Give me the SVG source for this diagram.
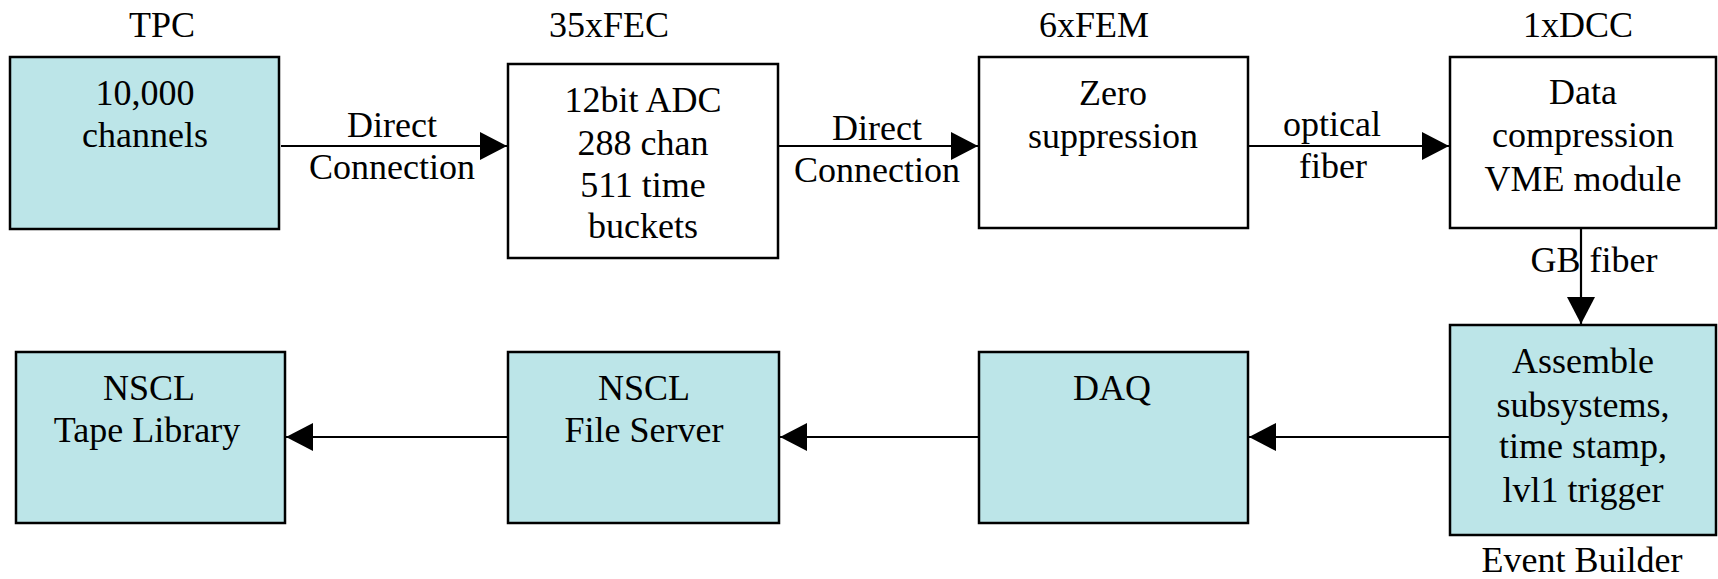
<svg xmlns="http://www.w3.org/2000/svg" width="1718" height="579" viewBox="0 0 1718 579" font-family="'Liberation Serif', 'Times New Roman', serif">
<defs>
<style>
.box{stroke:#000;stroke-width:2.5}
.cy{fill:#BCE5E8}
.wh{fill:#fff}
text{font-family:'Liberation Serif','Times New Roman',serif;font-size:36px;fill:#000;text-anchor:middle}
.ln{stroke:#000;stroke-width:2.2;fill:none;marker-end:url(#ah)}
</style>
<marker id="ah" markerUnits="userSpaceOnUse" markerWidth="28" markerHeight="28" refX="27" refY="14" orient="auto">
<path d="M0,0 L27,14 L0,28 Z" fill="#000"/>
</marker>
</defs>
<rect width="1718" height="579" fill="#fff"/>
<g id="connectors">
<line class="ln" x1="281" y1="146" x2="507" y2="146"/>
<line class="ln" x1="779" y1="146" x2="978" y2="146"/>
<line class="ln" x1="1249" y1="146" x2="1449" y2="146"/>
<line class="ln" x1="1581" y1="226" x2="1581" y2="324"/>
<line class="ln" x1="1449" y1="437" x2="1249" y2="437"/>
<line class="ln" x1="978" y1="437" x2="780" y2="437"/>
<line class="ln" x1="507" y1="437" x2="286" y2="437"/>
<text x="392" y="137">Direct</text>
<text x="392" y="179">Connection</text>
<text x="877" y="140">Direct</text>
<text x="877" y="182">Connection</text>
<text x="1332" y="136">optical</text>
<text x="1333" y="178">fiber</text>
<text x="1594" y="272">GB fiber</text>
</g>
<g id="tpc">
<text x="162" y="37">TPC</text>
<rect class="box cy" x="10" y="57" width="269" height="172"/>
<text x="145" y="105">10,000</text>
<text x="145" y="147">channels</text>
</g>
<g id="fec">
<text x="609" y="37">35xFEC</text>
<rect class="box wh" x="508" y="64" width="270" height="194"/>
<text x="643" y="112">12bit ADC</text>
<text x="643" y="155">288 chan</text>
<text x="643" y="197">511 time</text>
<text x="643" y="238">buckets</text>
</g>
<g id="fem">
<text x="1094" y="37">6xFEM</text>
<rect class="box wh" x="979" y="57" width="269" height="171"/>
<text x="1113" y="105">Zero</text>
<text x="1113" y="148">suppression</text>
</g>
<g id="dcc">
<text x="1578" y="37">1xDCC</text>
<rect class="box wh" x="1450" y="57" width="266" height="171"/>
<text x="1583" y="104">Data</text>
<text x="1583" y="147">compression</text>
<text x="1583" y="191">VME module</text>
</g>
<g id="eventbuilder">
<rect class="box cy" x="1450" y="325" width="266" height="210"/>
<text x="1583" y="373">Assemble</text>
<text x="1583" y="417">subsystems,</text>
<text x="1583" y="458">time stamp,</text>
<text x="1583" y="502">lvl1 trigger</text>
<text x="1582" y="572">Event Builder</text>
</g>
<g id="daq">
<rect class="box cy" x="979" y="352" width="269" height="171"/>
<text x="1112" y="400">DAQ</text>
</g>
<g id="fileserver">
<rect class="box cy" x="508" y="352" width="271" height="171"/>
<text x="644" y="400">NSCL</text>
<text x="644" y="442">File Server</text>
</g>
<g id="tapelibrary">
<rect class="box cy" x="16" y="352" width="269" height="171"/>
<text x="149" y="400">NSCL</text>
<text x="147" y="442">Tape Library</text>
</g>
</svg>
